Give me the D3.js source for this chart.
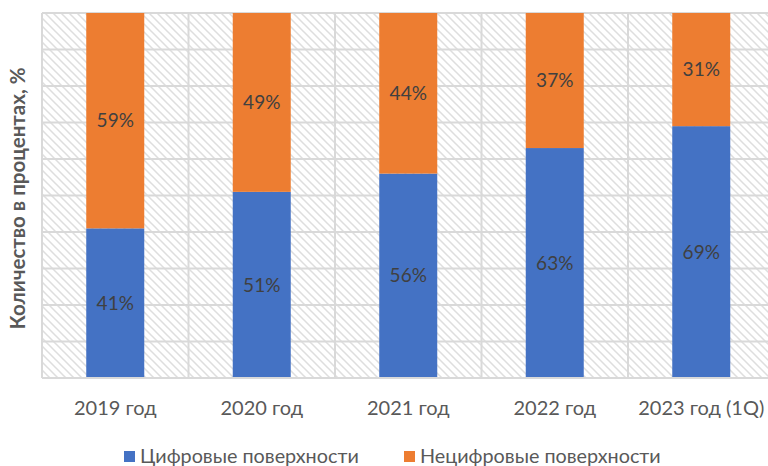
<!DOCTYPE html>
<html><head><meta charset="utf-8">
<script src="https://cdn.jsdelivr.net/npm/d3@7"></script>
<style>body{margin:0;background:#fff}svg{display:block}text{font-family:Lato,"Open Sans",sans-serif}</style>
</head><body><svg id="c" width="768" height="466"></svg>
<script>
const categories = ["2019 год","2020 год","2021 год","2022 год","2023 год (1Q)"];
const digital = [41,51,56,63,69];
const nonDigital = [59,49,44,37,31];
const seriesNames = ["Цифровые поверхности","Нецифровые поверхности"];
const yTicks = [0,10,20,30,40,50,60,70,80,90,100];
const colors = ["#4472C4","#ED7D31"];

const svg = d3.select("#c");
const pL=42, pR=774.5, pT=13, pB=378;
const x = d3.scaleBand().domain(categories).range([pL,pR]).padding(0);
const y = d3.scaleLinear().domain([0,100]).range([pB,pT]);

const defs = svg.append("defs");
const pat = defs.append("pattern").attr("id","hatch").attr("patternUnits","userSpaceOnUse").attr("width",8).attr("height",8);
pat.append("rect").attr("width",8).attr("height",8).attr("fill","#fff");
pat.append("path").attr("d","M-2,-2 L10,10 M-2,6 L2,10 M6,-2 L10,2").attr("stroke","#dedede").attr("stroke-width",1.5);

svg.append("rect").attr("x",pL).attr("y",pT).attr("width",pR-pL).attr("height",pB-pT).attr("fill","url(#hatch)");

svg.append("g").selectAll("line").data(yTicks).join("line")
  .attr("x1",pL).attr("x2",pR).attr("y1",d=>y(d)).attr("y2",d=>y(d))
  .attr("stroke","#d9d9d9").attr("stroke-width",2);
const bounds = categories.map(c=>x(c)).concat([pR]);
svg.append("g").selectAll("line").data(bounds).join("line")
  .attr("x1",d=>d).attr("x2",d=>d).attr("y1",pT).attr("y2",pB)
  .attr("stroke","#d9d9d9").attr("stroke-width",2);

const barW = 58;
const stackData = categories.map((c,i)=>({cat:c, d:digital[i], n:nonDigital[i]}));
const stack = d3.stack().keys(["d","n"])(stackData);
const g = svg.append("g");
stack.forEach((s,si)=>{
  g.selectAll(null).data(s).join("rect")
    .attr("x",d=>x(d.data.cat)+x.bandwidth()/2-barW/2)
    .attr("width",barW)
    .attr("y",d=>y(d[1])).attr("height",d=>y(d[0])-y(d[1]))
    .attr("fill",colors[si]);
  g.selectAll(null).data(s).join("text")
    .attr("x",d=>x(d.data.cat)+x.bandwidth()/2)
    .attr("y",d=>(y(d[0])+y(d[1]))/2)
    .attr("dy","0.35em").attr("text-anchor","middle")
    .attr("font-size",19).attr("fill","#404040")
    .text(d=>(d[1]-d[0])+"%");
});

svg.append("line").attr("x1",pL).attr("x2",pR).attr("y1",pB).attr("y2",pB).attr("stroke","#d9d9d9").attr("stroke-width",2);

const xAxis = d3.axisBottom(x).tickSize(0).tickPadding(0);
const xa = svg.append("g").attr("transform",`translate(0,${pB})`).call(xAxis);
xa.select(".domain").remove();
xa.selectAll("text").attr("y",30).attr("dy","0.35em").attr("font-size",20).attr("fill","#595959").attr("font-family","Lato,sans-serif");

svg.append("text").attr("transform",`translate(18,${(pT+pB)/2+3}) rotate(-90)`)
  .attr("text-anchor","middle").attr("dy","0.35em").attr("font-size",20.5).attr("font-weight","bold").attr("fill","#595959")
  .text("Количество в процентах, %");

const legX = [124,404];
const lg = svg.append("g");
seriesNames.forEach((n,i)=>{
  lg.append("rect").attr("x",legX[i]).attr("y",451).attr("width",11).attr("height",11).attr("fill",colors[i]);
  lg.append("text").attr("x",legX[i]+16).attr("y",456.5).attr("dy","0.35em").attr("font-size",19.8).attr("fill","#595959").text(n);
});
</script></body></html>
